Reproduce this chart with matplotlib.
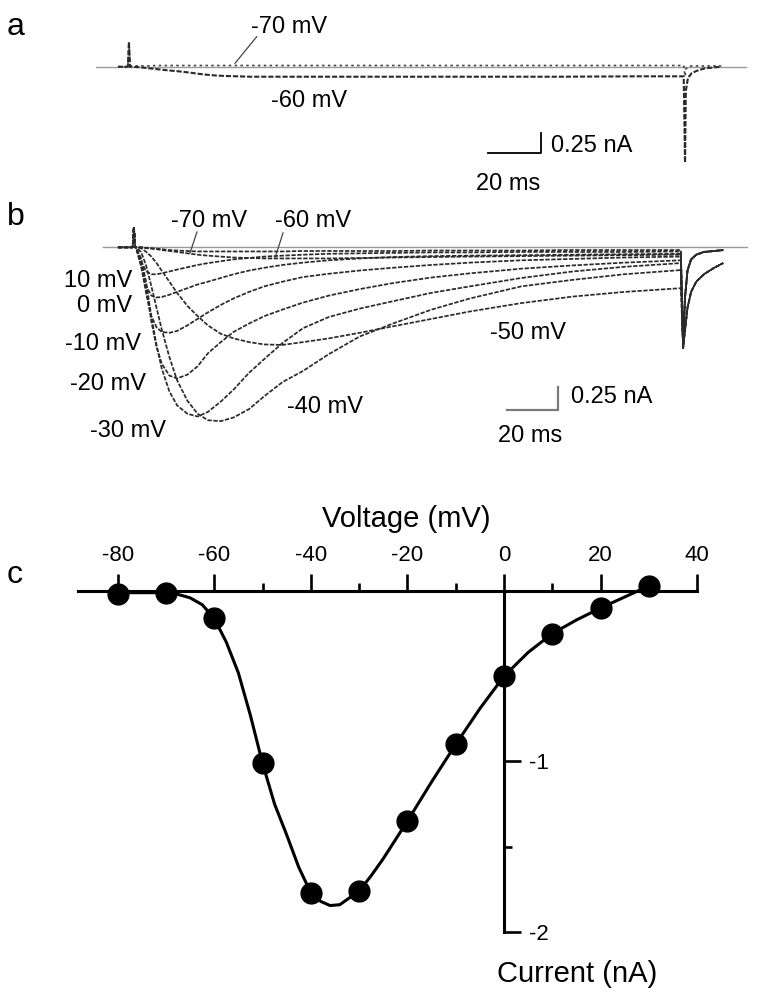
import matplotlib
matplotlib.use("Agg")
import matplotlib.pyplot as plt
from matplotlib.lines import Line2D
from matplotlib.ticker import FixedLocator

plt.rcParams['font.family'] = ['Liberation Sans', 'DejaVu Sans']

# ---- panel a: currents at -70 and -60 mV (time in ms, current in nA)
t_pre_a = [-4.5, -0.8, -0.4, 0]
i_pre_a = [0, 0, 0.31, 0.02]
t_a = [0, 3, 6, 10, 14, 18, 22, 26, 30, 35, 45, 60, 80, 100, 130, 160, 190, 207]
a_m60 = [0, -0.005, -0.015, -0.03, -0.045, -0.057, -0.072, -0.09, -0.105, -0.115,
         -0.125, -0.125, -0.125, -0.125, -0.125, -0.125, -0.12, -0.12]
a_m70 = [0.01, 0.01, 0.01, 0.015, 0.015, 0.015, 0.015, 0.015, 0.015, 0.015,
         0.015, 0.015, 0.015, 0.015, 0.015, 0.015, 0.015, 0.015]
t_tail_a = [207.5, 207.8, 208.6, 210, 212, 215, 221]
a_m60_tail = [-1.2, -0.3, -0.14, -0.08, -0.05, -0.02, 0.0]
a_m70_tail = [-0.12, -0.03, 0.0, 0.01, 0.01, 0.01, 0.01]

# ---- panel b: family of currents, -70 to +10 mV
t_pre_b = [-7, -1.3, -0.8, -0.3]
i_pre_b = [0, 0, 0.22, 0.0]
t_b = [0, 2, 4, 6, 8, 10, 13, 16, 20, 24, 28, 33, 38, 44, 50, 57, 65, 75, 87,
       100, 115, 130, 150, 170, 190, 212]
b_10 = [0, -0.15, -0.26, -0.29, -0.29, -0.28, -0.26, -0.24, -0.215, -0.19, -0.17, -0.15, -0.13,
        -0.115, -0.1, -0.09, -0.08, -0.07, -0.065, -0.06, -0.055, -0.055, -0.05, -0.05, -0.05, -0.045]
b_0 = [0, -0.2, -0.42, -0.52, -0.54, -0.535, -0.51, -0.48, -0.44, -0.4, -0.37, -0.33, -0.29,
       -0.25, -0.22, -0.19, -0.165, -0.14, -0.12, -0.105, -0.095, -0.09, -0.085, -0.08, -0.075, -0.07]
b_m10 = [0, -0.2, -0.5, -0.74, -0.86, -0.91, -0.92, -0.9, -0.84, -0.77, -0.7, -0.62, -0.55,
         -0.48, -0.42, -0.37, -0.32, -0.285, -0.25, -0.22, -0.19, -0.165, -0.14, -0.125, -0.11, -0.1]
b_m20 = [0, -0.15, -0.45, -0.8, -1.07, -1.25, -1.38, -1.41, -1.37, -1.28, -1.14, -1.02, -0.91,
         -0.82, -0.74, -0.67, -0.595, -0.52, -0.45, -0.385, -0.325, -0.28, -0.23, -0.195, -0.165, -0.14]
b_m30 = [0, -0.12, -0.38, -0.75, -1.05, -1.3, -1.55, -1.7, -1.79, -1.82, -1.77, -1.66, -1.53,
         -1.35, -1.2, -1.03, -0.87, -0.75, -0.66, -0.58, -0.49, -0.42, -0.33, -0.26, -0.21, -0.17]
b_m40 = [0, -0.05, -0.2, -0.42, -0.65, -0.88, -1.18, -1.43, -1.65, -1.79, -1.86, -1.87, -1.83,
         -1.74, -1.6, -1.45, -1.33, -1.15, -0.96, -0.82, -0.67, -0.55, -0.42, -0.35, -0.29, -0.245]
b_m50 = [0, -0.01, -0.05, -0.1, -0.17, -0.25, -0.37, -0.49, -0.63, -0.74, -0.84, -0.93, -0.98,
         -1.02, -1.045, -1.05, -1.02, -0.98, -0.92, -0.85, -0.77, -0.69, -0.6, -0.53, -0.48, -0.44]
b_m60 = [0, 0, -0.01, -0.015, -0.02, -0.03, -0.04, -0.05, -0.065, -0.08, -0.09, -0.1, -0.11,
         -0.115, -0.12, -0.12, -0.12, -0.12, -0.115, -0.11, -0.105, -0.1, -0.095, -0.09, -0.085, -0.08]
b_m70 = [0, 0, -0.005, -0.01, -0.015, -0.02, -0.03, -0.035, -0.04, -0.045, -0.045, -0.045, -0.045,
         -0.045, -0.045, -0.045, -0.04, -0.04, -0.04, -0.04, -0.035, -0.035, -0.035, -0.03, -0.03, -0.03]
t_tail_b = [212.9, 213.6, 214.6, 216, 218, 221, 225, 228.5]
tail_heavy = [-1.08, -0.9, -0.65, -0.48, -0.37, -0.29, -0.22, -0.17]
tail_light = [-1.08, -0.55, -0.25, -0.13, -0.08, -0.05, -0.04, -0.03]

# ---- panel c: I-V relation
iv_v = [-80, -70, -60, -50, -40, -30, -20, -10, 0, 10, 20, 30]
iv_i = [-0.02, -0.01, -0.16, -1.01, -1.77, -1.76, -1.35, -0.90, -0.50, -0.25, -0.10, 0.03]
fit_v = [-80, -75, -70, -67.5, -65, -62.5, -60, -57.5, -55, -52.5, -50, -47.5, -45, -42.5, -40,
         -38, -36, -34, -32, -30, -27.5, -25, -22.5, -20, -15, -10, -5, 0, 5, 10, 15, 20, 25, 30]
fit_i = [-0.01, -0.01, -0.01, -0.02, -0.04, -0.08, -0.16, -0.3, -0.48, -0.73, -1.01, -1.25, -1.43,
         -1.62, -1.77, -1.82, -1.845, -1.84, -1.8, -1.76, -1.67, -1.57, -1.46, -1.35, -1.12, -0.9,
         -0.69, -0.5, -0.36, -0.25, -0.17, -0.1, -0.035, 0.03]
v_ticks = [-80, -60, -40, -20, 0, 20, 40]

W, H = 761, 1000
fig = plt.figure(figsize=(W / 100, H / 100), dpi=100)


def fx(x):
    return x / W


def fy(y):
    return 1 - y / H


def label(x, y, s, size=17, ha='left'):
    fig.text(fx(x), fy(y), s, fontsize=size, ha=ha, va='baseline')


def leader(x0, y0, x1, y1, c='#444444'):
    fig.add_artist(Line2D([fx(x0), fx(x1)], [fy(y0), fy(y1)], color=c, lw=0.9,
                          transform=fig.transFigure))


trace_col = '#2a2a2a'
dash = (0, (2.5, 0.9))

# ---------------- panel a
ax_a = fig.add_axes([0, fy(190), 1, 190 / H])
ax_a.set_xlim(-48.6, 235.9)
ax_a.set_ylim(-1.541, 0.834)
ax_a.axis('off')
ax_a.plot([-12.7, 230.3], [0, 0], color='#9a9a9a', lw=1.0)
ax_a.plot(t_pre_a + t_a + t_tail_a, i_pre_a + a_m70 + a_m70_tail, color='#444444', lw=1.2, ls=(0, (1.5, 2.0)))
ax_a.plot(t_pre_a + t_a + t_tail_a, i_pre_a + a_m60 + a_m60_tail, color=trace_col, lw=1.5, ls=dash)
ax_a.plot([133.8, 153.8, 153.8], [-1.0825, -1.0825, -0.8325], color='black', lw=1.3)

label(7, 35, 'a', size=23)
label(251, 33, '-70 mV')
leader(256.7, 36.7, 235, 63.3)
label(271, 107, '-60 mV')
label(551, 152, '0.25 nA')
label(476, 190, '20 ms')

# ---------------- panel b
ax_b = fig.add_axes([0, fy(450), 1, 260 / H])
ax_b.set_xlim(-52.9, 243.2)
ax_b.set_ylim(-2.18, 0.616)
ax_b.axis('off')
ax_b.plot([-12.8, 237.7], [0, 0], color='#9a9a9a', lw=1.0)
light = [b_m70, b_m60, b_10, b_0, b_m10]
heavy = [b_m20, b_m30, b_m40, b_m50]
for vals in light:
    ax_b.plot(t_pre_b + t_b + t_tail_b, i_pre_b + vals + tail_light, color=trace_col, lw=1.25, ls=dash)
for vals in heavy:
    ax_b.plot(t_pre_b + t_b + t_tail_b, i_pre_b + vals + tail_heavy, color=trace_col, lw=1.25, ls=dash)
ax_b.plot([144.4, 164.4, 164.4], [-1.75, -1.75, -1.5], color='#7a7a7a', lw=1.6)

label(7, 225, 'b', size=23)
label(171, 227, '-70 mV')
leader(197, 232, 190, 253)
label(275, 227, '-60 mV')
leader(283, 233, 275, 258)
label(132, 287, '10 mV', ha='right')
label(132, 312, '0 mV', ha='right')
label(141, 350, '-10 mV', ha='right')
label(146, 390, '-20 mV', ha='right')
label(90, 437, '-30 mV')
label(287, 413, '-40 mV')
label(490, 339, '-50 mV')
label(571, 403, '0.25 nA')
label(498, 442, '20 ms')

# ---------------- panel c
ax_c = fig.add_axes([0, 0, 1, 520 / H])
ax_c.set_xlim(-104.35, 53.21)
ax_c.set_ylim(-2.399, 0.651)
ax_c.patch.set_alpha(0)
ax_c.plot(fit_v, fit_i, color='black', lw=2.2, zorder=3)
ax_c.plot(iv_v, iv_i, 'o', color='black', ms=15, zorder=5, clip_on=False)

ax_c.spines['left'].set_visible(False)
ax_c.spines['bottom'].set_visible(False)
ax_c.spines['top'].set_position(('data', 0))
ax_c.spines['right'].set_position(('data', 0))
ax_c.spines['top'].set_bounds(-88.2, 40)
ax_c.spines['right'].set_bounds(-2, 0)
for s in ['top', 'right']:
    ax_c.spines[s].set_linewidth(2.2)
ax_c.xaxis.tick_top()
ax_c.yaxis.tick_right()
ax_c.set_xticks(v_ticks)
ax_c.set_xticklabels([str(v) for v in v_ticks])
ax_c.xaxis.set_minor_locator(FixedLocator([-70, -50, -30, -10, 10, 30]))
ax_c.set_yticks([-1, -2])
ax_c.set_yticklabels(['-1', '-2'])
ax_c.yaxis.set_minor_locator(FixedLocator([-1.5, -0.5]))
ax_c.tick_params(which='major', direction='out', length=12, width=1.9, labelsize=16, pad=6)
ax_c.tick_params(which='minor', direction='out', length=6, width=1.9)

label(7, 583, 'c', size=23)
label(406, 527, 'Voltage (mV)', size=21, ha='center')
label(497, 982, 'Current (nA)', size=21)

fig.savefig('out.png', dpi=100)
